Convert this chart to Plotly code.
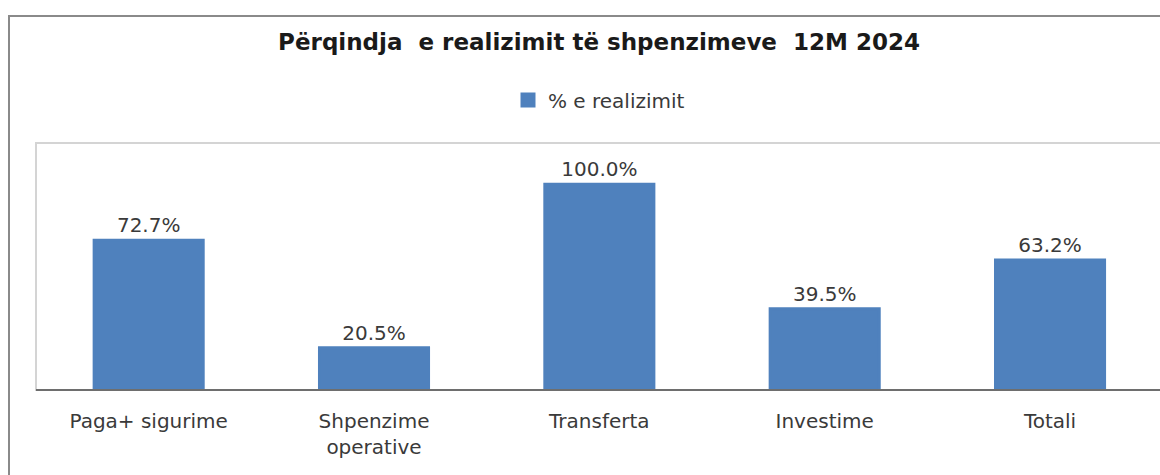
import plotly.graph_objects as go

categories = ["Paga+ sigurime", "Shpenzime<br>operative", "Transferta", "Investime", "Totali"]
realization_pct = [72.7, 20.5, 100.0, 39.5, 63.2]
series_name = "% e realizimit"
chart_title = "Përqindja  e realizimit të shpenzimeve  12M 2024"

W, H = 1160, 475
ML, MT, MB = 36, 143, 85
plot_w = W - ML
plot_h = H - MT - MB


def px_x(p):
    return (p - ML) / plot_w


def px_y(p):
    return (H - MB - p) / plot_h


FONT = "DejaVu Sans"
TEXT = "#3a3a3a"
BAR = "#4f81bd"

fig = go.Figure(
    go.Bar(
        x=categories,
        y=realization_pct,
        name=series_name,
        marker=dict(color=BAR, line=dict(color=BAR, width=3)),
        width=0.484,
        text=[f"{v:.1f}%" for v in realization_pct],
        textposition="outside",
        textfont=dict(family=FONT, size=20, color=TEXT),
        cliponaxis=False,
        showlegend=True,
    )
)

fig.update_layout(
    width=W,
    height=H,
    margin=dict(l=ML, r=0, t=MT, b=MB, pad=0),
    paper_bgcolor="white",
    plot_bgcolor="white",
    title=dict(
        text=f"<b>{chart_title}</b>",
        x=px_x(599),
        xref="paper",
        xanchor="center",
        y=1 - 42 / H,
        yref="container",
        yanchor="middle",
        font=dict(family=FONT, size=23, color="#1a1a1a"),
    ),
    legend=dict(
        orientation="h",
        x=px_x(508),
        xanchor="left",
        y=px_y(100),
        yanchor="middle",
        font=dict(family=FONT, size=20, color=TEXT),
        bgcolor="rgba(0,0,0,0)",
        itemwidth=30,
    ),
    xaxis=dict(
        range=[-0.5, 4.488],
        showgrid=False,
        zeroline=False,
        showline=False,
        ticks="",
        tickfont=dict(family=FONT, size=20, color=TEXT),
        ticklabelstandoff=17,
        fixedrange=True,
    ),
    yaxis=dict(
        range=[0, 120],
        visible=False,
        fixedrange=True,
    ),
    shapes=[
        # outer chart frame
        dict(type="rect", xref="paper", yref="paper",
             x0=px_x(9), x1=1.02, y0=-0.6, y1=px_y(16),
             line=dict(color="#8a8a8a", width=2), layer="below"),
        # plot area frame
        dict(type="rect", xref="paper", yref="paper",
             x0=0, x1=1.02, y0=0, y1=1,
             line=dict(color="#d4d4d4", width=2), layer="below"),
        # category axis line
        dict(type="line", xref="paper", yref="paper",
             x0=0, x1=1, y0=0, y1=0,
             line=dict(color="#6e6e6e", width=2), layer="above"),
    ],
)

fig.write_html("out.html")
